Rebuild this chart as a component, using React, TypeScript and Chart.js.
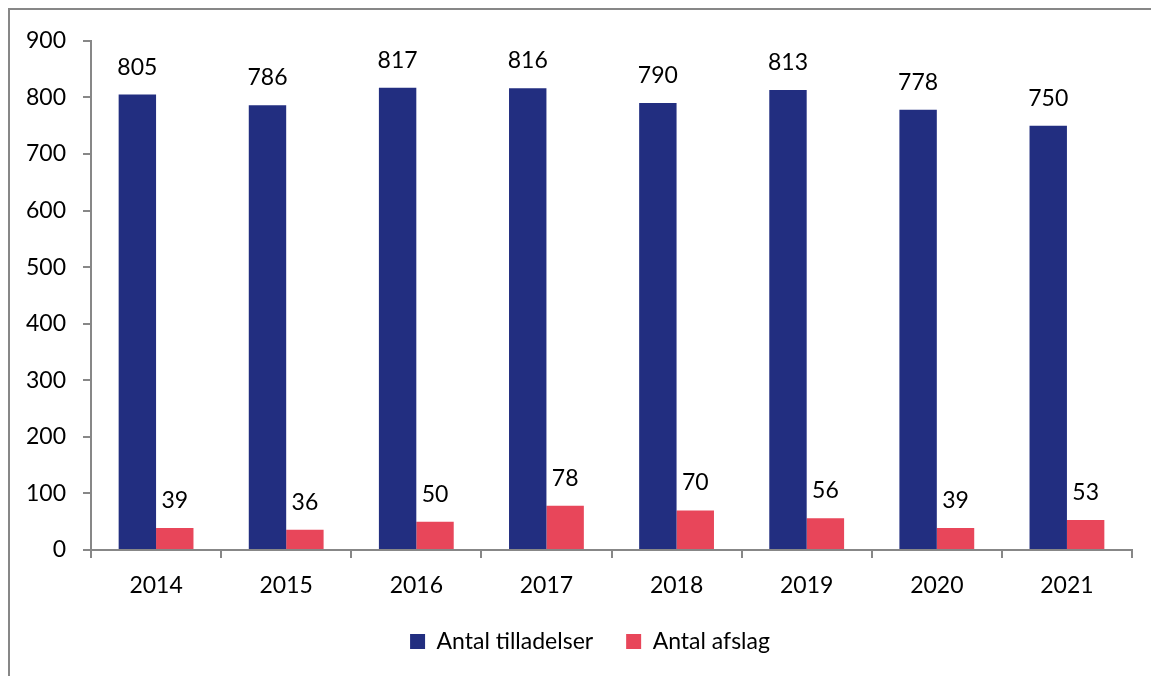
import React, { useEffect, useRef } from "react";
import { Chart, registerables } from "chart.js";

Chart.register(...registerables);

const years = ["2014", "2015", "2016", "2017", "2018", "2019", "2020", "2021"];
const tilladelser = [805, 786, 817, 816, 790, 813, 778, 750];
const afslag = [39, 36, 50, 78, 70, 56, 39, 53];
const seriesNames = ["Antal tilladelser", "Antal afslag"];
const yMin = 0;
const yMax = 900;
const yStep = 100;

const FONT = "Lato";
const FS = 23;
const AXIS_GREY = "#878787";

const valueLabels = {
  id: "valueLabels",
  afterDatasetsDraw(chart: any) {
    const ctx = chart.ctx;
    ctx.save();
    ctx.font = `${FS}px ${FONT}`;
    ctx.fillStyle = "#000";
    ctx.textAlign = "center";
    ctx.textBaseline = "alphabetic";
    chart.data.datasets.forEach((ds: any, i: number) => {
      const meta = chart.getDatasetMeta(i);
      meta.data.forEach((bar: any, j: number) => {
        ctx.fillText(String(ds.data[j]), bar.x, bar.y - 20);
      });
    });
    ctx.restore();
  },
};

// shift the legend's box so it is centred where the reference has it
const legendShift = {
  id: "legendShift",
  afterLayout(chart: any) {
    const lg = chart.legend;
    if (lg) {
      lg.left = 38;
      lg.right = 1122;
    }
  },
};

export default function App() {
  const ref = useRef<HTMLCanvasElement | null>(null);

  useEffect(() => {
    if (!ref.current) return;
    const chart = new Chart(ref.current, {
      type: "bar",
      data: {
        labels: years,
        datasets: [
          {
            label: seriesNames[0],
            data: tilladelser,
            backgroundColor: "#222E80",
            barPercentage: 1,
            categoryPercentage: 0.575,
          },
          {
            label: seriesNames[1],
            data: afslag,
            backgroundColor: "#E8465A",
            barPercentage: 1,
            categoryPercentage: 0.575,
          },
        ],
      },
      options: {
        animation: false,
        responsive: false,
        maintainAspectRatio: false,
        layout: { padding: { left: 0, right: 19, top: 29, bottom: 13 } },
        plugins: {
          legend: {
            position: "bottom",
            labels: {
              boxWidth: 15,
              boxHeight: 15,
              padding: 33,
              color: "#000",
              font: { family: FONT, size: FS },
            },
          },
          tooltip: { enabled: false },
        },
        scales: {
          x: {
            afterFit: (s: any) => {
              s.height = 47;
            },
            grid: {
              drawOnChartArea: false,
              drawTicks: true,
              tickLength: 8,
              color: AXIS_GREY,
              lineWidth: 2,
            },
            border: { color: AXIS_GREY, width: 2 },
            ticks: {
              color: "#000",
              padding: 14,
              font: { family: FONT, size: FS },
            },
          },
          y: {
            min: yMin,
            max: yMax,
            afterFit: (s: any) => {
              s.width = 81;
            },
            grid: {
              drawOnChartArea: false,
              drawTicks: true,
              tickLength: 8,
              color: AXIS_GREY,
              lineWidth: 2,
            },
            border: { color: AXIS_GREY, width: 2 },
            ticks: {
              stepSize: yStep,
              color: "#000",
              padding: 17,
              font: { family: FONT, size: FS },
            },
          },
        },
      },
      plugins: [valueLabels, legendShift],
    });
    return () => chart.destroy();
  }, []);

  return (
    <div
      style={{
        position: "absolute",
        left: 8,
        top: 8,
        width: 1143,
        height: 668,
        boxSizing: "border-box",
        borderLeft: `2px solid ${AXIS_GREY}`,
        borderTop: `2px solid ${AXIS_GREY}`,
        background: "#fff",
        overflow: "hidden",
      }}
    >
      <canvas ref={ref} width={1141} height={666} style={{ display: "block" }} />
    </div>
  );
}
